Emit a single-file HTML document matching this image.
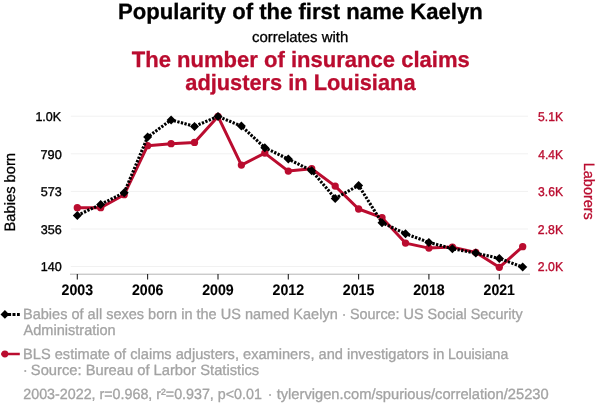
<!DOCTYPE html>
<html><head><meta charset="utf-8"><title>Spurious correlation</title>
<style>
html,body{margin:0;padding:0;background:#fff;}
body{width:600px;height:414px;overflow:hidden;font-family:"Liberation Sans",Arial,sans-serif;}
svg{display:block;}
text{font-family:"Liberation Sans",Arial,sans-serif;text-rendering:geometricPrecision;}
</style></head><body>
<svg width="600" height="414" viewBox="0 0 600 414">
<rect width="600" height="414" fill="#fff"/>
<line x1="70.8" x2="528" y1="116.2" y2="116.2" stroke="#f1f1f1" stroke-width="1"/>
<line x1="70.8" x2="528" y1="153.8" y2="153.8" stroke="#f1f1f1" stroke-width="1"/>
<line x1="70.8" x2="528" y1="191.4" y2="191.4" stroke="#f1f1f1" stroke-width="1"/>
<line x1="70.8" x2="528" y1="229" y2="229" stroke="#f1f1f1" stroke-width="1"/>
<line x1="70.8" x2="528" y1="266.5" y2="266.5" stroke="#f1f1f1" stroke-width="1"/>
<line x1="70" x2="530" y1="274.2" y2="274.2" stroke="#b4b4b4" stroke-width="1"/>
<line x1="77.3" x2="77.3" y1="274" y2="279.5" stroke="#222" stroke-width="1.1"/>
<line x1="147.6" x2="147.6" y1="274" y2="279.5" stroke="#222" stroke-width="1.1"/>
<line x1="218.0" x2="218.0" y1="274" y2="279.5" stroke="#222" stroke-width="1.1"/>
<line x1="288.3" x2="288.3" y1="274" y2="279.5" stroke="#222" stroke-width="1.1"/>
<line x1="358.6" x2="358.6" y1="274" y2="279.5" stroke="#222" stroke-width="1.1"/>
<line x1="428.9" x2="428.9" y1="274" y2="279.5" stroke="#222" stroke-width="1.1"/>
<line x1="499.3" x2="499.3" y1="274" y2="279.5" stroke="#222" stroke-width="1.1"/>
<text id="t1" x="118.00" y="19.4" textLength="364.71" lengthAdjust="spacingAndGlyphs" font-size="22.3" font-weight="bold" fill="#000" stroke="#000" stroke-width="0.3">Popularity of the first name Kaelyn</text>
<text id="t2" x="252.00" y="41.8" textLength="96.20" lengthAdjust="spacingAndGlyphs" font-size="15" font-weight="normal" fill="#000" stroke="#000" stroke-width="0.3">correlates with</text>
<text id="t3" x="131.75" y="67.3" textLength="338.06" lengthAdjust="spacingAndGlyphs" font-size="22.2" font-weight="bold" fill="#ba0c2f" stroke="#ba0c2f" stroke-width="0.3">The number of insurance claims</text>
<text id="t4" x="185.25" y="89.9" textLength="230.27" lengthAdjust="spacingAndGlyphs" font-size="22.2" font-weight="bold" fill="#ba0c2f" stroke="#ba0c2f" stroke-width="0.3">adjusters in Louisiana</text>
<text id="x0" x="61.55" y="294.7" textLength="31.55" lengthAdjust="spacingAndGlyphs" font-size="15.2" font-weight="bold" fill="#000" stroke="#000" stroke-width="0.1">2003</text>
<text id="x3" x="131.98" y="294.7" textLength="31.53" lengthAdjust="spacingAndGlyphs" font-size="15.2" font-weight="bold" fill="#000" stroke="#000" stroke-width="0.1">2006</text>
<text id="x6" x="202.16" y="294.7" textLength="31.55" lengthAdjust="spacingAndGlyphs" font-size="15.2" font-weight="bold" fill="#000" stroke="#000" stroke-width="0.1">2009</text>
<text id="x9" x="272.59" y="294.7" textLength="31.56" lengthAdjust="spacingAndGlyphs" font-size="15.2" font-weight="bold" fill="#000" stroke="#000" stroke-width="0.1">2012</text>
<text id="x12" x="342.77" y="294.7" textLength="31.56" lengthAdjust="spacingAndGlyphs" font-size="15.2" font-weight="bold" fill="#000" stroke="#000" stroke-width="0.1">2015</text>
<text id="x15" x="413.19" y="294.7" textLength="31.55" lengthAdjust="spacingAndGlyphs" font-size="15.2" font-weight="bold" fill="#000" stroke="#000" stroke-width="0.1">2018</text>
<text id="x18" x="483.62" y="294.7" textLength="31.30" lengthAdjust="spacingAndGlyphs" font-size="15.2" font-weight="bold" fill="#000" stroke="#000" stroke-width="0.1">2021</text>
<text id="l0" x="35.40" y="121.10000000000001" textLength="25.77" lengthAdjust="spacingAndGlyphs" font-size="12.8" font-weight="normal" fill="#000" stroke="#000" stroke-width="0.35">1.0K</text>
<text id="l1" x="40.50" y="158.70000000000002" textLength="21.26" lengthAdjust="spacingAndGlyphs" font-size="12.8" font-weight="normal" fill="#000" stroke="#000" stroke-width="0.35">790</text>
<text id="l2" x="40.75" y="196.3" textLength="21.01" lengthAdjust="spacingAndGlyphs" font-size="12.8" font-weight="normal" fill="#000" stroke="#000" stroke-width="0.35">573</text>
<text id="l3" x="40.75" y="233.9" textLength="21.01" lengthAdjust="spacingAndGlyphs" font-size="12.8" font-weight="normal" fill="#000" stroke="#000" stroke-width="0.35">356</text>
<text id="l4" x="40.75" y="271.4" textLength="21.00" lengthAdjust="spacingAndGlyphs" font-size="12.8" font-weight="normal" fill="#000" stroke="#000" stroke-width="0.35">140</text>
<text id="r0" x="538.10" y="121.10000000000001" textLength="24.98" lengthAdjust="spacingAndGlyphs" font-size="12.8" font-weight="normal" fill="#ba0c2f" stroke="#ba0c2f" stroke-width="0.35">5.1K</text>
<text id="r1" x="538.35" y="158.70000000000002" textLength="24.74" lengthAdjust="spacingAndGlyphs" font-size="12.8" font-weight="normal" fill="#ba0c2f" stroke="#ba0c2f" stroke-width="0.35">4.4K</text>
<text id="r2" x="538.10" y="196.3" textLength="24.98" lengthAdjust="spacingAndGlyphs" font-size="12.8" font-weight="normal" fill="#ba0c2f" stroke="#ba0c2f" stroke-width="0.35">3.6K</text>
<text id="r3" x="537.85" y="233.9" textLength="25.22" lengthAdjust="spacingAndGlyphs" font-size="12.8" font-weight="normal" fill="#ba0c2f" stroke="#ba0c2f" stroke-width="0.35">2.8K</text>
<text id="r4" x="537.85" y="271.4" textLength="25.22" lengthAdjust="spacingAndGlyphs" font-size="12.8" font-weight="normal" fill="#ba0c2f" stroke="#ba0c2f" stroke-width="0.35">2.0K</text>
<text id="g1a" x="23.05" y="318.7" textLength="314.68" lengthAdjust="spacingAndGlyphs" font-size="14.8" font-weight="normal" fill="#a3a3a3" stroke="#a3a3a3" stroke-width="0.3">Babies of all sexes born in the US named Kaelyn</text>
<text id="g1d" x="341.65" y="318.7" textLength="4.67" lengthAdjust="spacingAndGlyphs" font-size="14.8" font-weight="normal" fill="#a3a3a3" stroke="#a3a3a3" stroke-width="0.3">·</text>
<text id="g1b" x="350.00" y="318.7" textLength="172.74" lengthAdjust="spacingAndGlyphs" font-size="14.8" font-weight="normal" fill="#a3a3a3" stroke="#a3a3a3" stroke-width="0.3">Source: US Social Security</text>
<text id="g2" x="23.50" y="334.6" textLength="92.23" lengthAdjust="spacingAndGlyphs" font-size="14.8" font-weight="normal" fill="#a3a3a3" stroke="#a3a3a3" stroke-width="0.3">Administration</text>
<text id="g3a" x="23.10" y="358.7" textLength="421.24" lengthAdjust="spacingAndGlyphs" font-size="14.8" font-weight="normal" fill="#a3a3a3" stroke="#a3a3a3" stroke-width="0.3">BLS estimate of claims adjusters, examiners, and investigators in</text>
<text id="g3b" x="448.00" y="358.7" textLength="60.24" lengthAdjust="spacingAndGlyphs" font-size="14.8" font-weight="normal" fill="#a3a3a3" stroke="#a3a3a3" stroke-width="0.3">Louisiana</text>
<text id="g4d" x="23.00" y="374.9" textLength="4.67" lengthAdjust="spacingAndGlyphs" font-size="14.8" font-weight="normal" fill="#a3a3a3" stroke="#a3a3a3" stroke-width="0.3">·</text>
<text id="g4b" x="30.85" y="374.9" textLength="228.30" lengthAdjust="spacingAndGlyphs" font-size="14.8" font-weight="normal" fill="#a3a3a3" stroke="#a3a3a3" stroke-width="0.3">Source: Bureau of Larbor Statistics</text>
<text id="g5a" x="23.30" y="398.5" textLength="238.58" lengthAdjust="spacingAndGlyphs" font-size="14.8" font-weight="normal" fill="#a3a3a3" stroke="#a3a3a3" stroke-width="0.3">2003-2022, r=0.968, r²=0.937, p&lt;0.01</text>
<text id="g5d" x="267.80" y="398.5" textLength="4.67" lengthAdjust="spacingAndGlyphs" font-size="14.8" font-weight="normal" fill="#a3a3a3" stroke="#a3a3a3" stroke-width="0.3">·</text>
<text id="g5b" x="276.65" y="398.5" textLength="272.01" lengthAdjust="spacingAndGlyphs" font-size="14.8" font-weight="normal" fill="#a3a3a3" stroke="#a3a3a3" stroke-width="0.3">tylervigen.com/spurious/correlation/25230</text>
<text transform="translate(14.8,192.2) rotate(-90)" text-anchor="middle" textLength="78.5" lengthAdjust="spacingAndGlyphs" font-size="15" fill="#000" stroke="#000" stroke-width="0.3">Babies born</text>
<text transform="translate(584.3,191.3) rotate(90)" text-anchor="middle" textLength="57" lengthAdjust="spacingAndGlyphs" font-size="15" fill="#ba0c2f" stroke="#ba0c2f" stroke-width="0.3">Laborers</text>
<polyline points="77.3,207.7 100.7,207.7 124.2,194.7 147.6,145.7 171.1,143.7 194.5,142.4 218.0,116.4 241.4,165.1 264.8,153.1 288.3,171.1 311.7,168.7 335.2,186.1 358.6,209.0 382.0,217.7 405.5,243.1 428.9,248.1 452.4,247.1 475.8,252.4 499.3,267.3 522.7,246.7" fill="none" stroke="#ba0c2f" stroke-width="3" stroke-linejoin="round"/>
<circle cx="77.3" cy="207.7" r="3.65" fill="#ba0c2f"/>
<circle cx="100.7" cy="207.7" r="3.65" fill="#ba0c2f"/>
<circle cx="124.2" cy="194.7" r="3.65" fill="#ba0c2f"/>
<circle cx="147.6" cy="145.7" r="3.65" fill="#ba0c2f"/>
<circle cx="171.1" cy="143.7" r="3.65" fill="#ba0c2f"/>
<circle cx="194.5" cy="142.4" r="3.65" fill="#ba0c2f"/>
<circle cx="218.0" cy="116.4" r="3.65" fill="#ba0c2f"/>
<circle cx="241.4" cy="165.1" r="3.65" fill="#ba0c2f"/>
<circle cx="264.8" cy="153.1" r="3.65" fill="#ba0c2f"/>
<circle cx="288.3" cy="171.1" r="3.65" fill="#ba0c2f"/>
<circle cx="311.7" cy="168.7" r="3.65" fill="#ba0c2f"/>
<circle cx="335.2" cy="186.1" r="3.65" fill="#ba0c2f"/>
<circle cx="358.6" cy="209.0" r="3.65" fill="#ba0c2f"/>
<circle cx="382.0" cy="217.7" r="3.65" fill="#ba0c2f"/>
<circle cx="405.5" cy="243.1" r="3.65" fill="#ba0c2f"/>
<circle cx="428.9" cy="248.1" r="3.65" fill="#ba0c2f"/>
<circle cx="452.4" cy="247.1" r="3.65" fill="#ba0c2f"/>
<circle cx="475.8" cy="252.4" r="3.65" fill="#ba0c2f"/>
<circle cx="499.3" cy="267.3" r="3.65" fill="#ba0c2f"/>
<circle cx="522.7" cy="246.7" r="3.65" fill="#ba0c2f"/>
<polyline points="77.3,215.4 100.7,204.4 124.2,192.7 147.6,137.1 171.1,119.9 194.5,126.4 218.0,116.4 241.4,126.1 264.8,147.7 288.3,159.1 311.7,170.7 335.2,198.4 358.6,185.4 382.0,222.7 405.5,233.7 428.9,242.4 452.4,248.7 475.8,253.1 499.3,258.4 522.7,267.1" fill="none" stroke="#000" stroke-width="3.1" stroke-dasharray="2.3,1.4" stroke-linejoin="round"/>
<path d="M77.3,210.9 L81.8,215.4 L77.3,219.9 L72.8,215.4 Z" fill="#000"/>
<path d="M100.7,199.9 L105.2,204.4 L100.7,208.9 L96.2,204.4 Z" fill="#000"/>
<path d="M124.2,188.2 L128.7,192.7 L124.2,197.2 L119.7,192.7 Z" fill="#000"/>
<path d="M147.6,132.6 L152.1,137.1 L147.6,141.6 L143.1,137.1 Z" fill="#000"/>
<path d="M171.1,115.4 L175.6,119.9 L171.1,124.4 L166.6,119.9 Z" fill="#000"/>
<path d="M194.5,121.9 L199.0,126.4 L194.5,130.9 L190.0,126.4 Z" fill="#000"/>
<path d="M218.0,111.9 L222.5,116.4 L218.0,120.9 L213.5,116.4 Z" fill="#000"/>
<path d="M241.4,121.6 L245.9,126.1 L241.4,130.6 L236.9,126.1 Z" fill="#000"/>
<path d="M264.8,143.2 L269.3,147.7 L264.8,152.2 L260.3,147.7 Z" fill="#000"/>
<path d="M288.3,154.6 L292.8,159.1 L288.3,163.6 L283.8,159.1 Z" fill="#000"/>
<path d="M311.7,166.2 L316.2,170.7 L311.7,175.2 L307.2,170.7 Z" fill="#000"/>
<path d="M335.2,193.9 L339.7,198.4 L335.2,202.9 L330.7,198.4 Z" fill="#000"/>
<path d="M358.6,180.9 L363.1,185.4 L358.6,189.9 L354.1,185.4 Z" fill="#000"/>
<path d="M382.0,218.2 L386.5,222.7 L382.0,227.2 L377.5,222.7 Z" fill="#000"/>
<path d="M405.5,229.2 L410.0,233.7 L405.5,238.2 L401.0,233.7 Z" fill="#000"/>
<path d="M428.9,237.9 L433.4,242.4 L428.9,246.9 L424.4,242.4 Z" fill="#000"/>
<path d="M452.4,244.2 L456.9,248.7 L452.4,253.2 L447.9,248.7 Z" fill="#000"/>
<path d="M475.8,248.6 L480.3,253.1 L475.8,257.6 L471.3,253.1 Z" fill="#000"/>
<path d="M499.3,253.9 L503.8,258.4 L499.3,262.9 L494.8,258.4 Z" fill="#000"/>
<path d="M522.7,262.6 L527.2,267.1 L522.7,271.6 L518.2,267.1 Z" fill="#000"/>
<line x1="5" x2="19.8" y1="314.5" y2="314.5" stroke="#000" stroke-width="2.8" stroke-dasharray="6.1 1.4 3 1.5 2.8 100"/>
<path d="M4.9,310.05 L9.3,314.45 L4.9,318.85 L0.5,314.45 Z" fill="#000"/>
<line x1="1.2" x2="19.8" y1="354" y2="354" stroke="#ba0c2f" stroke-width="2.5"/>
<circle cx="4.9" cy="354" r="3.4" fill="#ba0c2f"/>
</svg></body></html>
